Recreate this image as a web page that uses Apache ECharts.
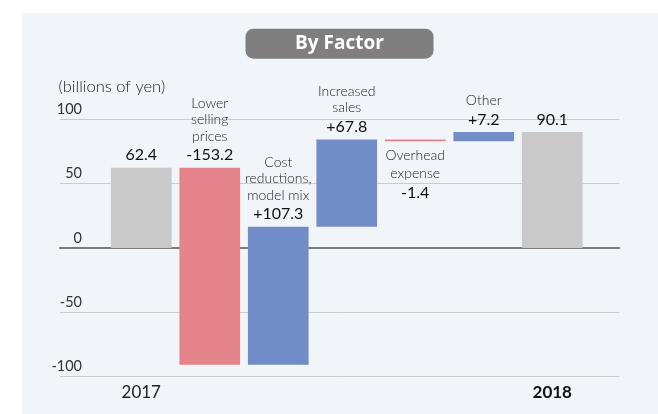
<!DOCTYPE html>
<html><head><meta charset="utf-8">
<script src="https://cdn.jsdelivr.net/npm/echarts@6/dist/echarts.min.js"></script>
<style>
html,body{margin:0;padding:0;background:#fff;}
#panel{position:absolute;left:22px;top:13px;width:636px;height:401px;background:#f1f4f8;}
#chart{position:absolute;left:0;top:0;width:658px;height:414px;}
</style></head><body>
<div id="panel"></div><div id="chart"></div>
<script>
// ---- data ----
const categories = ['2017', 'Lower selling prices', 'Cost reductions, model mix', 'Increased sales', 'Overhead expense', 'Other', '2018'];
const nameLines = [[], ['Lower', 'selling', 'prices'], ['Cost', 'reductions,', 'model mix'], ['Increased', 'sales'], ['Overhead', 'expense'], ['Other'], []];
const changes = [62.4, -153.2, 107.3, 67.8, -1.4, 7.2, 90.1];
const isTotal = [true, false, false, false, false, false, true];
const yTickMin = -100, yTickMax = 100, yTickStep = 50;
const unitLabel = '(billions of yen)';
const titleText = 'By Factor';

// ---- derived waterfall ranges ----
let run = 0;
const starts = [], ends = [];
changes.forEach((c, i) => {
  if (isTotal[i]) { starts.push(0); ends.push(c); run = c; }
  else { starts.push(run); run = Math.round((run + c) * 10) / 10; ends.push(run); }
});
const barData = categories.map((c, i) => [i, starts[i], ends[i]]);

const FONT = 'Lato';
const C_TOTAL = '#c8c9c8', C_UP = '#728cc7', C_DOWN = '#e4838a';

function valueText(i) {
  if (isTotal[i]) return changes[i].toFixed(1);
  return (changes[i] > 0 ? '+' : '') + changes[i].toFixed(1);
}

const chart = echarts.init(document.getElementById('chart'), null, { renderer: 'canvas' });
const gridTop = 119.3, gridBottom = 414 - 376.7;

chart.setOption({
  animation: false,
  textStyle: { fontFamily: FONT },
  grid: [
    { left: 60, right: 658 - 619.3, top: gridTop, bottom: gridBottom },
    { left: 107, width: 479.5, top: gridTop, bottom: gridBottom }
  ],
  xAxis: [
    { gridIndex: 0, type: 'value', min: 0, max: 1,
      axisLine: { show: true, onZero: true, lineStyle: { color: '#7a7a7a', width: 2 } },
      axisTick: { show: false }, axisLabel: { show: false }, splitLine: { show: false } },
    { gridIndex: 1, type: 'category', data: categories,
      axisLine: { show: false }, axisTick: { show: false }, splitLine: { show: false },
      axisLabel: {
        interval: 0, margin: 6,
        formatter: (v, i) => i === 0 ? '{a|' + v + '}' : (i === categories.length - 1 ? '{b|' + v + '}' : ''),
        rich: {
          a: { fontFamily: FONT, fontSize: 17, color: '#222', lineHeight: 20 },
          b: { fontFamily: FONT, fontSize: 17, fontWeight: 'bold', color: '#111', lineHeight: 20 }
        }
      } }
  ],
  yAxis: [
    { gridIndex: 0, type: 'value', min: yTickMin, max: yTickMax, interval: yTickStep,
      axisLine: { show: false }, axisTick: { show: false },
      splitLine: { show: true, lineStyle: { color: '#c9cbcd', width: 1 } },
      axisLabel: { margin: -22, align: 'right', verticalAlign: 'bottom', lineHeight: 20,
        fontFamily: FONT, fontSize: 14.5, color: '#333' } },
    { gridIndex: 1, type: 'value', min: yTickMin, max: yTickMax, interval: yTickStep, show: false }
  ],
  graphic: [
    { type: 'rect', shape: { x: 245.5, y: 28.7, width: 188, height: 30, r: 8 }, style: { fill: '#7f7f7f' } },
    { type: 'text', x: 339.5, y: 44, style: { text: titleText, fill: '#fff', font: 'bold 19px "Open Sans"', align: 'center', verticalAlign: 'middle' } },
    { type: 'text', x: 58.5, y: 87, style: { text: unitLabel, fill: '#222', font: '300 16.5px Lato', align: 'left', verticalAlign: 'middle' } }
  ],
  series: [{
    type: 'custom', xAxisIndex: 1, yAxisIndex: 1, z: 3,
    data: barData,
    renderItem: (params, api) => {
      const i = api.value(0), s = api.value(1), e = api.value(2);
      const p1 = api.coord([i, Math.max(s, e)]);
      const p2 = api.coord([i, Math.min(s, e)]);
      const w = api.size([1, 0])[0] * 0.886;
      const h = Math.max(p2[1] - p1[1], 1.8);
      const fill = isTotal[i] ? C_TOTAL : (changes[i] < 0 ? C_DOWN : C_UP);
      const below = (i === 4);
      const parts = nameLines[i].map(t => '{' + (below ? 'nb' : 'n') + '|' + t + '}');
      parts.push('{' + (below ? 'vb' : 'v') + '|' + valueText(i) + '}');
      return {
        type: 'rect',
        shape: { x: p1[0] - w / 2, y: p1[1], width: w, height: h },
        style: { fill: fill },
        textContent: {
          style: {
            text: parts.join('\n'),
            align: 'center',
            rich: {
              n: { fontFamily: FONT, fontSize: 14, fontWeight: 300, fill: '#1e1e1e', lineHeight: 16.4 },
              v: { fontFamily: FONT, fontSize: 16, fill: '#111', lineHeight: 22 },
              nb: { fontFamily: FONT, fontSize: 14, fontWeight: 300, fill: '#1e1e1e', lineHeight: 18.5 },
              vb: { fontFamily: FONT, fontSize: 16, fill: '#111', lineHeight: 20 }
            }
          }
        },
        textConfig: { position: below ? 'bottom' : 'top', distance: below ? 4.5 : 1.5 }
      };
    }
  }]
});
</script>
</body></html>
